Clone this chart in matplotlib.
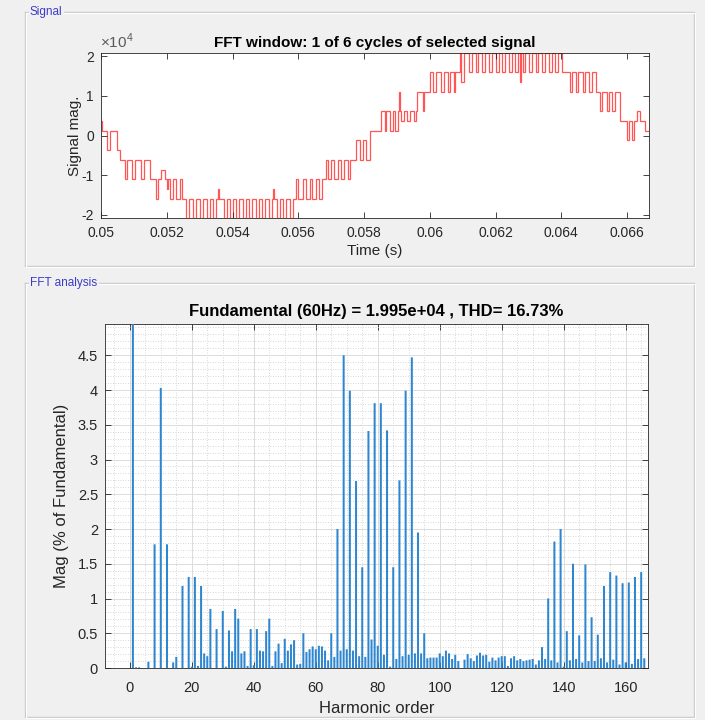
import matplotlib
matplotlib.use('Agg')
import matplotlib.pyplot as plt
from matplotlib.ticker import MultipleLocator, FuncFormatter
from matplotlib.lines import Line2D

plt.rcParams['font.family'] = ['Liberation Sans', 'DejaVu Sans']
plt.rcParams['mathtext.fontset'] = 'custom'
plt.rcParams['mathtext.rm'] = 'Liberation Sans'

BG = '#f0f0f0'
INK = '#262626'
PANEL_BLUE = '#3c3cc8'

W, H = 705, 720

# inverter output over one 60 Hz cycle: switching instants (ms after t=0.05 s) and level held after each (x1e4)
switch_ms = [
    0.00, 0.03, 0.19, 0.28, 0.49, 0.58, 0.73, 0.80, 0.94, 1.02, 1.23, 1.31,
    1.48, 1.66, 1.72, 1.84, 1.95, 2.00, 2.05, 2.10, 2.20, 2.27, 2.40, 2.47,
    2.60, 2.69, 2.81, 2.90, 3.02, 3.11, 3.21, 3.30, 3.41, 3.50, 3.55, 3.59,
    3.73, 3.82, 3.92, 4.01, 4.12, 4.21, 4.33, 4.42, 4.51, 4.60, 4.71, 4.80,
    4.91, 5.00, 5.11, 5.20, 5.23, 5.27, 5.34, 5.43, 5.54, 5.63, 5.74, 5.83,
    5.93, 6.00, 6.15, 6.22, 6.35, 6.42, 6.55, 6.62, 6.71, 6.84, 6.89, 7.00,
    7.08, 7.20, 7.30, 7.38, 7.50, 7.58, 7.75, 7.87, 7.97, 8.07, 8.18, 8.53,
    8.63, 8.68, 8.78, 8.88, 8.95, 9.04, 9.07, 9.09, 9.11, 9.21, 9.31, 9.41,
    9.51, 9.58, 9.62, 9.78, 9.81, 10.00, 10.10, 10.20, 10.35, 10.42, 10.55, 10.62,
    10.73, 10.78, 10.91, 10.96, 11.04, 11.20, 11.28, 11.40, 11.48, 11.60, 11.68, 11.80,
    11.88, 12.01, 12.09, 12.21, 12.29, 12.41, 12.49, 12.60, 12.68, 12.73, 12.76, 12.82,
    12.90, 13.02, 13.10, 13.22, 13.30, 13.42, 13.50, 13.63, 13.71, 13.81, 13.89, 14.03,
    14.25, 14.32, 14.45, 14.52, 14.65, 14.72, 14.85, 14.92, 15.07, 15.17, 15.25, 15.38,
    15.45, 15.55, 15.63, 15.78, 16.00, 16.07, 16.15, 16.22, 16.30, 16.40, 16.55,
]
level_e4 = [
    0.37, 0.12, -0.37, 0.12, -0.37, -0.61, -1.10, -0.61, -1.10, -0.61, -1.10, -0.61,
    -1.10, -1.59, -1.10, -0.86, -1.10, -1.35, -1.10, -1.59, -1.10, -1.59, -1.10, -1.59,
    -2.08, -1.59, -2.08, -1.59, -2.08, -1.59, -2.08, -1.59, -2.08, -1.59, -1.35, -1.59,
    -2.08, -1.59, -2.08, -1.59, -2.08, -1.59, -2.08, -1.59, -2.08, -1.59, -2.08, -1.59,
    -2.08, -1.59, -2.08, -1.59, -1.35, -1.59, -2.08, -1.59, -2.08, -1.59, -2.08, -1.59,
    -1.10, -1.59, -1.10, -1.59, -1.10, -1.59, -1.10, -1.59, -1.10, -0.61, -1.10, -0.61,
    -1.10, -0.61, -1.10, -0.61, -1.10, -0.61, -0.12, -0.61, -0.12, -0.61, 0.12, 0.61,
    0.12, 0.61, 0.12, 0.61, 0.12, 0.61, 1.10, 0.61, 0.37, 0.61, 0.37, 0.61,
    0.37, 0.61, 1.10, 0.61, 1.10, 1.59, 1.10, 1.59, 1.10, 1.59, 1.10, 1.59,
    1.10, 1.59, 2.08, 1.35, 2.08, 1.59, 2.08, 1.59, 2.08, 1.59, 2.08, 1.59,
    2.08, 1.59, 2.08, 1.59, 2.08, 1.59, 2.08, 1.59, 2.08, 1.35, 2.08, 1.59,
    2.08, 1.59, 2.08, 1.59, 2.08, 1.59, 2.08, 1.59, 2.08, 1.59, 2.08, 1.59,
    1.10, 1.59, 1.10, 1.59, 1.10, 1.59, 1.10, 1.59, 1.10, 0.61, 1.10, 0.61,
    1.10, 0.61, 1.10, 0.37, -0.12, 0.37, -0.12, 0.37, 0.61, 0.37, 0.12,
]
window_ms = 16.667  # one cycle of 60 Hz

# FFT magnitudes in % of fundamental, harmonic orders 0..166 (order 1 is the fundamental)
harmonic_pct = [
    0.00, 100.0, 0.01, 0.01, 0.00, 0.00, 0.09, 0.00, 1.78, 0.00,
    4.03, 0.00, 1.78, 0.00, 0.08, 0.16, 0.00, 1.18, 0.00, 1.31,
    0.02, 1.31, 0.03, 1.18, 0.21, 0.17, 0.85, 0.00, 0.56, 0.00,
    0.82, 0.02, 0.54, 0.24, 0.85, 0.71, 0.21, 0.24, 0.03, 0.56,
    0.04, 0.56, 0.25, 0.24, 0.53, 0.71, 0.03, 0.24, 0.35, 0.07,
    0.42, 0.25, 0.34, 0.40, 0.05, 0.06, 0.50, 0.23, 0.27, 0.31,
    0.27, 0.32, 0.31, 0.25, 0.11, 0.50, 0.16, 2.00, 0.25, 4.50,
    0.27, 3.99, 0.25, 2.69, 0.17, 1.45, 0.16, 3.41, 0.41, 3.81,
    0.32, 3.81, 0.19, 3.42, 0.02, 1.45, 0.13, 2.70, 0.17, 3.99,
    0.19, 4.47, 0.21, 1.95, 0.21, 0.50, 0.14, 0.15, 0.15, 0.15,
    0.21, 0.17, 0.25, 0.21, 0.13, 0.19, 0.10, 0.00, 0.12, 0.20,
    0.14, 0.10, 0.18, 0.22, 0.18, 0.19, 0.09, 0.15, 0.11, 0.15,
    0.17, 0.17, 0.03, 0.14, 0.17, 0.11, 0.13, 0.10, 0.11, 0.12,
    0.13, 0.05, 0.11, 0.30, 0.13, 1.00, 0.11, 1.82, 0.08, 2.00,
    0.02, 0.53, 0.11, 1.50, 0.13, 0.47, 0.08, 1.49, 0.10, 0.73,
    0.10, 0.48, 0.14, 1.18, 0.08, 1.38, 0.12, 1.33, 0.05, 1.22,
    0.08, 1.23, 0.06, 1.31, 0.13, 1.38, 0.14,
]
fundamental_hz = 60
fundamental_mag = 1.995e4
thd_pct = 16.73


def box(left, top, right, bottom):
    return [left / W, 1 - bottom / H, (right - left) / W, (bottom - top) / H]


def panel(fig, left, top, right, bottom, title):
    xs = [left / W, right / W, right / W, left / W, left / W]
    ys = [1 - top / H, 1 - top / H, 1 - bottom / H, 1 - bottom / H, 1 - top / H]
    fig.add_artist(Line2D(xs, ys, color='#cbcbcb', lw=1.0, transform=fig.transFigure))
    xs2 = [x + 1 / W for x in xs]
    ys2 = [y - 1 / H for y in ys]
    fig.add_artist(Line2D(xs2, ys2, color='white', lw=0.8, transform=fig.transFigure))
    fig.text((left + 5) / W, 1 - top / H, title, color=PANEL_BLUE, fontsize=8.5,
             ha='left', va='center',
             bbox=dict(facecolor=BG, edgecolor='none', pad=1.0))


def style_axes(ax, labelsize, xpad=5):
    for s in ax.spines.values():
        s.set_color(INK)
        s.set_linewidth(0.6)
    ax.tick_params(which='major', direction='in', top=True, right=True, length=4,
                   width=0.6, color=INK, labelcolor=INK, labelsize=labelsize, pad=5)
    ax.tick_params(axis='x', which='major', pad=xpad)
    ax.tick_params(which='minor', length=0)


fig = plt.figure(figsize=(W / 100, H / 100), dpi=100, facecolor=BG)

panel(fig, 25, 12, 694, 266, 'Signal')
panel(fig, 25, 283, 694, 717, 'FFT analysis')

# time signal
ax1 = fig.add_axes(box(101, 53, 649, 218))
edges = [0.05 + t / 1000 for t in switch_ms] + [0.05 + window_ms / 1000]
ax1.stairs(level_e4, edges, baseline=None, color='#ff2a2a', lw=0.9, alpha=0.8)
ax1.set_xlim(0.05, 0.05 + window_ms / 1000)
ax1.set_ylim(min(level_e4), max(level_e4))
ax1.xaxis.set_major_locator(MultipleLocator(0.002))
ax1.xaxis.set_major_formatter(FuncFormatter(lambda v, p: '%g' % round(v, 4)))
ax1.yaxis.set_major_locator(MultipleLocator(1))
ax1.yaxis.set_major_formatter(FuncFormatter(lambda v, p: '%g' % round(v, 3)))
style_axes(ax1, 10, xpad=6)
ax1.set_xlabel('Time (s)', fontsize=11, color=INK, labelpad=3)
ax1.set_ylabel('Signal mag.', fontsize=11, color=INK, labelpad=0)
ax1.set_title('FFT window: 1 of 6 cycles of selected signal', fontsize=11,
              fontweight='bold', color='black', pad=4)
ax1.text(-0.002, 1.01, r'$\times10^{4}$', transform=ax1.transAxes, fontsize=11,
         color='#5a5a5a', ha='left', va='bottom')

# harmonic spectrum
ax2 = fig.add_axes(box(105, 324, 648, 668))
orders = list(range(len(harmonic_pct)))
ax2.bar(orders, harmonic_pct, width=0.65, color='#2e86d0', edgecolor='none',
        zorder=3, snap=False)
ax2.set_xlim(-8, 167.2)
ax2.set_ylim(0, 1.1 * max(harmonic_pct[2:]))
ax2.xaxis.set_major_locator(MultipleLocator(20))
ax2.xaxis.set_minor_locator(MultipleLocator(5))
ax2.yaxis.set_major_locator(MultipleLocator(0.5))
ax2.yaxis.set_minor_locator(MultipleLocator(0.1))
ax2.yaxis.set_major_formatter(FuncFormatter(lambda v, p: '%g' % round(v, 2)))
ax2.set_axisbelow(True)
ax2.grid(which='major', color='#dcdcdc', lw=0.7)
ax2.grid(which='minor', color='#cacaca', lw=0.6, ls=(0, (1, 2)))
style_axes(ax2, 10.5, xpad=9)
ax2.set_xlabel('Harmonic order', fontsize=12, color=INK, labelpad=5)
ax2.set_ylabel('Mag (% of Fundamental)', fontsize=12, color=INK, labelpad=6)
ax2.set_title('Fundamental (%dHz) = %.3e , THD= %.2f%%' % (fundamental_hz, fundamental_mag, thd_pct),
              fontsize=12, fontweight='bold', color='black', pad=6)

fig.savefig('out.png', dpi=100, facecolor=BG)
